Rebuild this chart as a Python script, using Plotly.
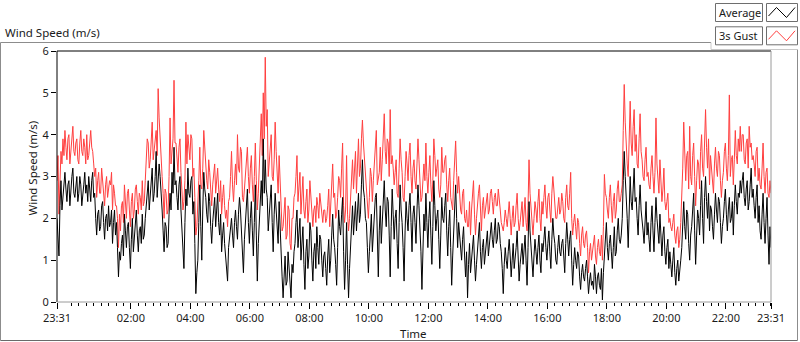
import plotly.graph_objects as go

# ---------------- data: readings every 2 minutes from 23:31 to 23:31 next day ----------------
# readings on the 4-minute marks (…:31, …:35, …) and the readings between them (…:33, …:37, …)
step_minutes = 2

average_on_4min = [
    2.0, 1.1, 2.9, 2.6, 3.1, 2.4, 2.9, 2.7, 3.2, 2.5, 3.0, 2.6, 2.8, 2.5, 3.1,
    2.8, 3.0, 2.4, 3.1, 2.6, 1.6, 2.2, 1.8, 2.4, 1.5, 2.1, 2.3, 1.9, 1.4, 2.2,
    1.9, 0.6, 1.0, 1.6, 2.1, 1.3, 1.9, 0.8, 2.0, 1.5, 2.2, 1.2, 1.8, 2.1, 1.6,
    2.4, 2.9, 2.5, 3.2, 2.6, 3.6, 2.8, 3.0, 2.2, 1.2, 1.8, 1.4, 2.6, 3.1, 3.7,
    2.9, 2.2, 3.0, 1.6, 0.8, 2.7, 3.2, 2.5, 3.0, 2.4, 0.2, 1.0, 2.8, 1.0, 3.1,
    2.5, 1.9, 2.4, 1.4, 2.2, 1.8, 2.6, 1.6, 1.2, 1.9, 1.1, 0.5, 1.5, 2.0, 1.3,
    2.2, 1.5, 2.5, 1.8, 0.7, 2.0, 2.7, 1.4, 2.4, 1.1, 2.8, 0.5, 2.0, 2.9, 3.9,
    3.4, 2.5, 2.0, 2.8, 1.2, 2.6, 1.8, 2.4, 1.0, 0.1, 1.1, 0.5, 0.8, 0.1, 0.7,
    1.4, 2.2, 1.6, 1.0, 1.8, 0.3, 1.5, 1.1, 1.7, 0.5, 1.4, 1.8, 0.9, 1.5, 0.6,
    1.2, 0.4, 1.5, 1.0, 2.1, 1.3, 0.4, 2.2, 1.6, 2.5, 0.3, 1.9, 0.1, 1.4, 2.3,
    2.0, 1.7, 2.6, 2.1, 3.4, 2.5, 1.9, 0.7, 1.6, 1.2, 2.0, 2.6, 0.6, 2.3, 1.8,
    2.9, 1.8, 2.4, 0.6, 2.7, 1.5, 2.2, 0.8, 2.8, 1.9, 0.5, 2.4, 1.7, 2.6, 1.2,
    2.3, 1.4, 2.8, 1.8, 0.3, 2.1, 2.6, 1.3, 2.4, 0.9, 2.9, 1.7, 2.2, 0.8, 2.5,
    1.9, 2.6, 1.1, 2.2, 0.4, 1.7, 2.8, 1.3, 1.6, 1.0, 1.8, 0.6, 0.1, 1.4, 1.1,
    1.6, 0.5, 1.3, 1.9, 0.8, 1.5, 1.2, 1.7, 1.4, 1.9, 1.3, 2.0, 1.5, 1.8, 1.2,
    0.2, 1.3, 0.8, 1.5, 0.6, 1.4, 1.0, 1.7, 0.5, 1.2, 0.9, 1.6, 0.4, 2.4, 1.3,
    0.6, 1.5, 0.9, 1.6, 0.7, 1.2, 1.8, 1.0, 1.7, 0.8, 2.0, 1.4, 0.9, 1.6, 1.1,
    1.5, 0.7, 1.9, 1.1, 1.7, 0.4, 1.3, 0.8, 1.1, 0.3, 0.9, 0.5, 1.0, 0.2, 0.7,
    0.5, 0.9, 0.2, 0.7, 0.3, 0.05, 1.2, 1.9, 1.0, 1.6, 0.8, 1.8, 1.2, 2.0, 1.4,
    2.0, 3.6, 2.6, 1.3, 3.0, 2.2, 3.2, 2.5, 1.6, 2.8, 2.0, 1.4, 2.4, 1.9, 1.2,
    2.3, 1.2, 2.5, 1.6, 2.1, 1.1, 1.8, 0.9, 1.5, 1.2, 0.6, 1.3, 0.4, 1.0, 0.7,
    1.3, 2.4, 1.5, 2.1, 1.0, 1.8, 2.6, 0.9, 2.2, 1.6, 2.9, 1.4, 3.0, 2.0, 1.7,
    2.2, 1.5, 2.6, 1.9, 2.4, 1.4, 2.0, 2.7, 1.7, 2.5, 2.0, 1.6, 2.8, 2.1, 2.5,
    2.6, 3.1, 2.3, 2.9, 2.4, 3.2, 2.7, 2.0, 2.8, 2.3, 1.5, 2.6, 1.4, 2.5, 0.9,
    1.3,
]
average_between = [
    1.4, 2.3, 2.2, 3.0, 2.7, 2.8, 2.3, 3.0, 2.6, 2.9, 2.4, 3.0, 2.3, 2.8, 2.6,
    2.4, 2.6, 2.9, 2.5, 2.0, 2.1, 1.7, 2.3, 1.9, 2.0, 1.7, 1.8, 2.2, 1.9, 1.6,
    1.3, 1.2, 1.4, 1.1, 1.7, 1.8, 1.3, 1.5, 1.2, 1.9, 1.6, 1.7, 1.4, 1.5, 2.0,
    2.7, 2.2, 2.9, 2.4, 3.0, 2.5, 3.3, 2.4, 1.7, 1.9, 1.3, 2.1, 2.2, 2.6, 2.8,
    2.5, 2.8, 2.2, 1.2, 1.9, 2.3, 2.6, 2.9, 2.1, 1.4, 0.7, 1.9, 1.8, 2.2, 2.7,
    2.1, 2.6, 1.8, 1.9, 2.5, 2.2, 1.9, 2.1, 1.6, 1.4, 0.8, 1.3, 1.8, 1.6, 1.9,
    1.8, 2.1, 2.2, 1.3, 1.5, 2.4, 1.9, 2.0, 1.7, 1.9, 1.6, 1.4, 2.5, 2.3, 2.6,
    2.7, 1.7, 2.5, 1.9, 2.1, 2.2, 1.4, 1.6, 0.6, 0.8, 0.4, 1.2, 0.3, 0.9, 1.2,
    1.9, 1.3, 2.0, 1.5, 0.9, 1.2, 0.8, 1.9, 1.0, 1.2, 0.8, 1.3, 1.6, 1.0, 1.1,
    0.8, 1.1, 0.7, 1.6, 1.5, 0.9, 1.3, 1.8, 2.1, 1.2, 1.0, 0.9, 0.8, 1.9, 1.6,
    2.4, 2.2, 1.9, 2.8, 2.7, 2.0, 1.3, 1.2, 2.1, 1.7, 2.5, 1.5, 1.7, 1.4, 2.5,
    2.2, 2.5, 1.6, 1.8, 2.1, 2.0, 1.4, 1.9, 2.2, 1.3, 1.7, 2.0, 2.3, 1.9, 2.1,
    1.9, 2.2, 2.3, 1.2, 1.5, 1.7, 1.9, 2.0, 1.6, 1.8, 2.3, 2.0, 1.5, 1.6, 2.0,
    2.3, 1.7, 1.8, 1.3, 1.1, 2.2, 2.0, 1.9, 1.2, 1.5, 1.1, 1.2, 0.9, 0.7, 1.5,
    1.0, 0.9, 1.7, 1.2, 1.3, 0.9, 1.6, 1.1, 1.8, 1.5, 1.7, 1.4, 1.9, 1.4, 0.8,
    0.9, 1.0, 1.2, 1.1, 1.0, 0.8, 1.3, 1.1, 0.9, 1.4, 1.2, 1.0, 1.3, 1.7, 0.9,
    1.1, 1.2, 1.3, 1.0, 1.4, 1.5, 1.3, 1.4, 1.2, 1.5, 1.6, 1.0, 1.3, 1.2, 1.4,
    1.1, 1.4, 1.5, 1.5, 1.0, 0.9, 1.0, 1.2, 0.6, 0.7, 0.6, 0.8, 0.6, 0.5, 0.4,
    0.3, 0.6, 0.6, 0.4, 0.8, 0.7, 1.6, 1.3, 1.4, 1.2, 1.3, 1.1, 1.7, 1.5, 1.6,
    2.9, 3.0, 2.0, 2.5, 2.4, 2.7, 2.4, 2.0, 2.3, 2.2, 1.7, 2.0, 1.6, 1.5, 1.9,
    1.7, 1.9, 2.0, 1.4, 1.5, 1.6, 1.2, 1.3, 0.8, 0.9, 1.0, 0.7, 0.8, 0.5, 1.0,
    1.9, 1.8, 2.2, 1.4, 1.6, 2.2, 1.7, 1.6, 2.0, 2.3, 2.0, 2.5, 2.4, 2.6, 2.3,
    1.8, 2.1, 2.2, 2.5, 1.9, 1.8, 2.4, 2.1, 2.2, 1.9, 2.4, 2.3, 2.4, 2.6, 2.9,
    2.9, 2.5, 2.7, 2.2, 2.8, 2.5, 2.3, 2.5, 1.9, 1.7, 2.1, 1.9, 2.0, 1.6, 1.8,
]

gust_on_4min = [
    2.9, 2.1, 3.6, 3.9, 4.1, 3.4, 4.0, 3.6, 4.2, 3.5, 3.9, 3.3, 4.1, 3.5, 3.7,
    4.0, 3.5, 4.1, 3.6, 3.0, 2.5, 3.1, 2.6, 2.9, 2.3, 3.0, 2.7, 2.8, 2.2, 2.6,
    2.3, 1.3, 1.7, 2.4, 2.8, 2.0, 2.7, 1.8, 2.6, 2.2, 2.8, 2.1, 2.5, 2.9, 2.4,
    3.3, 3.8, 3.4, 4.3, 3.6, 4.1, 5.1, 3.8, 3.0, 2.0, 2.6, 2.2, 4.4, 3.6, 5.3,
    3.8, 3.1, 3.9, 2.6, 2.4, 4.3, 4.0, 3.4, 3.9, 3.2, 1.6, 2.2, 3.7, 2.7, 4.1,
    3.2, 2.7, 3.1, 2.3, 3.0, 2.6, 3.2, 2.4, 2.1, 2.8, 2.0, 1.8, 2.5, 3.6, 2.4,
    3.3, 4.0, 3.1, 3.6, 2.4, 3.0, 3.7, 2.6, 3.5, 2.4, 3.8, 2.2, 3.2, 4.5, 5.0,
    5.85, 4.6, 3.3, 4.0, 2.9, 4.3, 3.1, 3.5, 2.1, 1.8, 2.5, 1.6, 2.2, 1.25, 2.0,
    2.6, 3.5, 2.8, 2.1, 3.0, 2.0, 2.7, 2.2, 2.5, 1.8, 2.3, 2.5, 2.0, 2.4, 1.9,
    2.2, 2.0, 2.7, 2.3, 3.3, 2.6, 2.1, 3.0, 2.5, 3.8, 1.9, 3.5, 1.7, 2.6, 3.4,
    3.1, 2.6, 3.9, 3.2, 4.35, 3.4, 2.8, 2.0, 3.2, 2.4, 3.3, 4.1, 3.0, 3.7, 3.4,
    4.5, 3.3, 3.8, 4.6, 3.5, 2.8, 3.4, 2.5, 3.9, 3.1, 2.4, 3.6, 2.9, 3.8, 2.6,
    3.4, 2.7, 3.9, 3.0, 2.5, 3.3, 3.8, 2.6, 3.5, 2.4, 3.9, 3.0, 3.4, 2.5, 3.7,
    3.1, 3.5, 2.4, 3.2, 2.3, 2.9, 3.85, 2.6, 2.5, 2.1, 2.7, 1.9, 1.8, 2.4, 2.2,
    2.9, 1.6, 2.4, 2.8, 1.7, 2.5, 2.2, 2.6, 2.2, 2.7, 2.1, 2.6, 2.3, 2.5, 1.9,
    1.7, 2.2, 1.8, 2.4, 1.6, 2.3, 1.9, 2.6, 1.7, 2.1, 1.8, 2.5, 1.7, 3.4, 2.2,
    1.6, 2.4, 1.9, 2.7, 1.7, 2.1, 2.8, 2.0, 2.6, 1.9, 3.0, 2.4, 2.0, 2.5, 2.2,
    2.4, 1.9, 2.8, 2.2, 3.1, 1.6, 2.1, 1.5, 1.9, 1.1, 1.8, 1.3, 1.7, 0.7, 1.4,
    1.2, 1.6, 0.9, 1.5, 1.1, 1.0, 3.05, 2.5, 2.0, 2.8, 1.9, 2.6, 2.2, 2.9, 2.4,
    2.8, 5.2, 3.6, 3.0, 4.8, 3.5, 4.6, 4.0, 3.2, 4.5, 3.4, 2.9, 3.7, 3.1, 2.7,
    3.5, 2.6, 4.4, 3.0, 3.4, 2.4, 3.2, 2.2, 2.6, 2.0, 1.7, 2.1, 1.4, 1.8, 1.5,
    2.5, 4.3, 2.9, 3.6, 4.2, 2.8, 3.8, 2.3, 3.4, 2.7, 4.0, 3.0, 4.6, 3.2, 2.8,
    3.2, 2.6, 3.7, 3.0, 3.5, 2.5, 3.1, 3.8, 2.9, 4.95, 3.4, 2.8, 4.1, 3.3, 3.6,
    3.6, 4.0, 3.3, 3.9, 4.2, 3.8, 3.5, 3.0, 3.7, 3.2, 2.7, 3.8, 2.6, 3.2, 2.5,
    2.6,
]
gust_between = [
    3.5, 3.2, 3.3, 3.5, 3.7, 3.9, 3.3, 3.9, 3.6, 3.8, 3.4, 3.8, 3.6, 3.9, 3.3,
    3.4, 3.8, 3.7, 3.3, 3.2, 2.9, 2.6, 3.2, 2.7, 2.8, 2.5, 2.9, 3.1, 2.8, 2.3,
    2.0, 2.1, 2.3, 1.9, 2.5, 2.6, 2.2, 2.4, 2.0, 2.7, 2.4, 2.6, 2.2, 2.3, 2.9,
    3.9, 3.2, 3.9, 3.4, 3.9, 3.5, 4.4, 3.5, 2.6, 2.7, 2.1, 3.0, 3.3, 3.9, 3.8,
    3.4, 3.7, 3.1, 2.2, 2.9, 3.3, 3.7, 4.0, 3.0, 2.5, 1.8, 2.9, 2.8, 3.2, 3.6,
    2.9, 3.4, 2.6, 2.8, 3.3, 3.0, 2.7, 2.9, 2.5, 2.3, 2.2, 2.4, 3.0, 2.8, 2.9,
    2.8, 3.2, 3.7, 2.5, 2.7, 3.5, 3.0, 3.2, 2.8, 3.0, 2.9, 2.6, 3.6, 3.5, 3.9,
    4.2, 3.0, 3.8, 3.0, 3.4, 3.6, 2.6, 2.8, 1.7, 2.2, 1.5, 2.3, 1.4, 2.0, 2.5,
    3.0, 2.4, 3.1, 2.5, 2.2, 2.4, 1.9, 2.9, 2.1, 2.2, 1.9, 2.3, 2.6, 2.1, 2.2,
    1.9, 2.3, 1.8, 2.8, 2.5, 2.0, 2.5, 2.9, 3.2, 2.3, 2.2, 2.1, 2.0, 3.1, 2.7,
    3.6, 3.3, 3.0, 3.9, 3.8, 2.9, 2.3, 2.5, 3.0, 2.9, 3.7, 2.8, 3.1, 2.9, 3.9,
    3.6, 3.9, 3.0, 3.3, 3.2, 3.1, 2.6, 3.2, 3.4, 2.5, 3.0, 3.3, 3.5, 3.0, 3.2,
    2.9, 3.3, 3.4, 2.4, 2.8, 2.9, 3.0, 3.1, 2.8, 2.9, 3.5, 3.2, 2.7, 2.8, 3.1,
    3.4, 2.8, 2.9, 2.5, 2.2, 3.4, 3.1, 3.0, 2.2, 2.6, 2.0, 2.2, 1.8, 1.6, 2.5,
    2.1, 2.0, 2.6, 2.2, 2.3, 2.0, 2.5, 2.1, 2.6, 2.4, 2.5, 2.3, 2.7, 2.2, 1.8,
    1.9, 2.0, 2.1, 2.0, 2.0, 1.8, 2.3, 2.0, 1.9, 2.4, 2.2, 1.9, 2.3, 2.6, 1.9,
    2.0, 2.2, 2.4, 2.0, 2.4, 2.5, 2.3, 2.5, 2.2, 2.6, 2.7, 2.0, 2.3, 2.1, 2.6,
    2.0, 2.5, 2.3, 2.6, 2.0, 1.9, 1.8, 2.0, 1.4, 1.6, 1.4, 1.6, 1.3, 1.2, 1.0,
    1.4, 1.1, 1.3, 1.2, 1.6, 1.8, 2.6, 2.2, 2.5, 2.3, 2.4, 2.0, 2.7, 2.4, 2.6,
    4.1, 4.3, 3.3, 3.9, 3.8, 4.2, 3.6, 3.3, 3.9, 3.6, 3.0, 3.4, 3.0, 2.8, 3.2,
    3.0, 3.1, 3.3, 2.6, 2.8, 2.7, 2.4, 2.4, 1.9, 1.8, 1.9, 1.6, 1.7, 1.3, 1.9,
    3.2, 3.4, 3.5, 2.7, 3.0, 3.5, 3.0, 2.9, 3.3, 3.6, 3.2, 3.8, 3.7, 3.9, 3.5,
    2.8, 3.3, 3.2, 3.6, 2.9, 2.9, 3.6, 3.2, 3.5, 3.0, 3.5, 3.4, 3.5, 3.9, 4.2,
    4.0, 3.4, 3.8, 3.2, 3.7, 3.4, 3.3, 3.6, 2.9, 2.8, 3.2, 3.0, 3.1, 2.6, 2.9,
]

# minutes after 23:31 for the labelled ticks
tick_minutes = [0, 149, 269, 389, 509, 629, 749, 869, 989, 1109, 1229, 1349, 1440]
tick_labels = ["23:31", "02:00", "04:00", "06:00", "08:00", "10:00", "12:00",
               "14:00", "16:00", "18:00", "20:00", "22:00", "23:31"]
series_names = ["Average", "3s Gust"]
series_colors = ["#000000", "#ff3f3f"]


def merge(on_marks, between):
    out = []
    for i, v in enumerate(on_marks):
        out.append(v)
        if i < len(between):
            out.append(between[i])
    return out


average = merge(average_on_4min, average_between)
gust_3s = merge(gust_on_4min, gust_between)
minutes = [i * step_minutes for i in range(len(average))]
minor_ticks = list(range(29, 1440, 15))

# ---------------- layout geometry ----------------
W, H = 800, 342
L, R, T, B = 57, 29, 51, 40
PW, PH = W - L - R, H - T - B
FONT = "Noto Sans"
TXT = "#1a1a1a"


def fx(px):
    return (px - L) / PW


def fy(py):
    return (H - B - py) / PH


fig = go.Figure()
fig.add_trace(go.Scatter(x=minutes, y=gust_3s, mode="lines", name=series_names[1],
                         line=dict(color=series_colors[1], width=1), showlegend=False,
                         hoverinfo="skip"))
fig.add_trace(go.Scatter(x=minutes, y=average, mode="lines", name=series_names[0],
                         line=dict(color=series_colors[0], width=1), showlegend=False,
                         hoverinfo="skip"))

shapes = []


def line(x0, y0, x1, y1, color, width=1):
    shapes.append(dict(type="line", xref="paper", yref="paper",
                       x0=fx(x0), y0=fy(y0), x1=fx(x1), y1=fy(y1),
                       line=dict(color=color, width=width), layer="above"))


def rect(x0, y0, x1, y1, color):
    shapes.append(dict(type="rect", xref="paper", yref="paper",
                       x0=fx(x0), y0=fy(y0), x1=fx(x1), y1=fy(y1),
                       line=dict(color=color, width=1), fillcolor="rgba(0,0,0,0)", layer="above"))


# outer panel
line(0.5, 42.5, 711, 42.5, "#8c8c8c")
line(0.5, 42.5, 0.5, 340.5, "#8c8c8c")
line(0.5, 340.5, 797.5, 340.5, "#6a6a6a")
line(797.5, 49.5, 797.5, 340.5, "#8c8c8c")
line(711, 49.5, 797.5, 49.5, "#c8c8c8")
line(711, 42.5, 711, 49.5, "#c8c8c8")
# plot frame
line(L, T, L + PW, T, "#000000")
line(L, T, L, H - B, "#000000")
line(L + PW, T, L + PW, H - B, "#9a9a9a")
line(L, H - B, L + PW, H - B, "#9a9a9a")

# legend boxes
annotations = []
for k, (name, col) in enumerate(zip(series_names, series_colors)):
    oy = k * 23.3
    rect(715.5, 3.5 + oy, 762.5, 21.5 + oy, "#6e6e6e")
    rect(766.5, 3.5 + oy, 797.5, 21.5 + oy, "#6e6e6e")
    shapes.append(dict(type="path", xref="paper", yref="paper",
                       path="M {} {} L {} {} L {} {} L {} {}".format(
                           fx(768.5), fy(16 + oy), fx(776.5), fy(7.5 + oy),
                           fx(786.5), fy(17.5 + oy), fx(795), fy(7.5 + oy)),
                       line=dict(color=col, width=1), layer="above"))
    annotations.append(dict(x=fx(717), y=fy(12.5 + oy), xref="paper", yref="paper",
                            text=name, showarrow=False, xanchor="left", yanchor="middle",
                            font=dict(family=FONT, size=11, color=TXT)))

annotations.append(dict(x=fx(3), y=fy(32), xref="paper", yref="paper",
                        text="Wind Speed (m/s)", showarrow=False, xanchor="left",
                        yanchor="middle", font=dict(family=FONT, size=11.5, color=TXT)))
annotations.append(dict(x=fx(31.5), y=fy(168), xref="paper", yref="paper",
                        text="Wind Speed (m/s)", showarrow=False, textangle=-90,
                        xanchor="center", yanchor="middle",
                        font=dict(family=FONT, size=11.5, color=TXT)))
annotations.append(dict(x=fx(413), y=fy(333), xref="paper", yref="paper",
                        text="Time", showarrow=False, xanchor="center", yanchor="middle",
                        font=dict(family=FONT, size=11.5, color=TXT)))

fig.update_layout(
    width=W, height=H,
    margin=dict(l=L, r=R, t=T, b=B, pad=0),
    paper_bgcolor="white", plot_bgcolor="white",
    font=dict(family=FONT, size=11, color=TXT),
    shapes=shapes, annotations=annotations, showlegend=False,
    hovermode=False,
)
fig.update_xaxes(range=[0, 1440], tickmode="array", tickvals=tick_minutes, ticktext=tick_labels,
                 ticks="outside", ticklen=6, tickcolor="#000", tickwidth=1,
                 showgrid=False, zeroline=False, showline=False,
                 tickfont=dict(family=FONT, size=11, color=TXT),
                 minor=dict(tickmode="array", tickvals=minor_ticks, ticks="outside",
                            ticklen=3, tickcolor="#000", showgrid=False))
fig.update_yaxes(range=[0, 6], tickmode="linear", tick0=0, dtick=1,
                 ticks="outside", ticklen=5, tickcolor="#000", tickwidth=1,
                 showgrid=False, zeroline=False, showline=False,
                 tickfont=dict(family=FONT, size=11, color=TXT))

fig.write_html("out.html", config={"displayModeBar": False},
               post_script="document.body.style.margin='0';document.body.style.overflow='hidden';")
